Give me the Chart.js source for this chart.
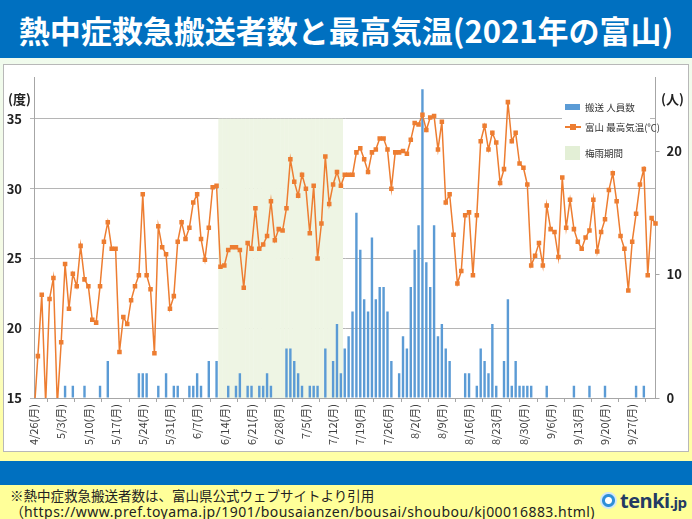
<!DOCTYPE html>
<html lang="ja">
<head>
<meta charset="utf-8">
<script src="https://cdn.jsdelivr.net/npm/chart.js@4.4.1/dist/chart.umd.min.js"></script>
<style>
  html, body { margin: 0; padding: 0; }
  body {
    width: 692px; height: 519px; position: relative; overflow: hidden;
    font-family: "Noto Sans CJK JP", "Noto Sans", sans-serif;
    background: linear-gradient(#effbef 0px, #f6fbe4 300px, #ffffa6 420px);
  }
  #title {
    position: absolute; left: 0; top: 0; width: 692px; height: 58px;
    background: #0070c0; color: #fff; font-weight: bold; font-size: 31px;
    line-height: 60px; text-align: center; white-space: nowrap;
  }
  #box {
    position: absolute; left: 3px; top: 64px; width: 684px; height: 386px;
    background: #fff; border: 1px solid #b8b8b8;
  }
  #box canvas { position: absolute; left: 0; top: 0; }
  .unit { position: absolute; font-size: 13px; font-weight: bold; color: #222; }
  #legend {
    position: absolute; left: 558px; top: 28px; width: 88px; height: 73px;
    background: #fff; font-size: 9.5px; color: #333;
  }
  #legend .item { position: absolute; left: 23px; white-space: nowrap; line-height: 12px; }
  #legend .mk { position: absolute; }
  #band { position: absolute; left: 0; top: 461px; width: 692px; height: 24px; background: #0070c0; }
  #foot { position: absolute; left: 0; top: 485px; width: 692px; height: 34px; background: #ffff99; }
  #foot .l { position: absolute; left: 10px; color: #222; white-space: nowrap; line-height: 16px; }
  #logo { position: absolute; left: 598px; top: 489px; height: 26px; white-space: nowrap; }
  #logo .ic {
    position: absolute; left: 2px; top: 3px; width: 17px; height: 17px; border-radius: 50%;
    background: radial-gradient(circle at 50% 50%, #fff 0 3px, #2f8fd8 4px 6px, #cfe7fa 7px);
  }
  #logo .tx {
    position: absolute; left: 22px; top: -2px; font-family: "Open Sans", "Noto Sans", sans-serif;
    font-weight: bold; font-size: 20px; color: #233a63; letter-spacing: -0.5px;
  }
  #logo .tx small { font-size: 15px; }
</style>
</head>
<body>
<div id="title">熱中症救急搬送者数と最高気温(2021年の富山)</div>

<div id="box">
  <canvas id="chart" width="684" height="386"></canvas>
  <div class="unit" style="left:4px; top:24px;">(度)</div>
  <div class="unit" style="left:657px; top:24px;">(人)</div>
  <div id="legend">
    <div class="mk" style="left:3px; top:11px; width:15px; height:6px; background:#5b9bd5;"></div>
    <div class="item" style="top:8px;">搬送 人員数</div>
    <div class="mk" style="left:3px; top:33px; width:16px; height:1.5px; background:#ed7d31;"></div>
    <div class="mk" style="left:8px; top:31px; width:6px; height:6px; background:#ed7d31;"></div>
    <div class="item" style="top:28px;">富山 最高気温(℃)</div>
    <div class="mk" style="left:3px; top:53px; width:15px; height:14px; background:#e3efd6;"></div>
    <div class="item" style="top:54px;">梅雨期間</div>
  </div>
</div>

<div id="band"></div>
<div id="foot">
  <div class="l" style="top:2px; font-size:13.5px;">※熱中症救急搬送者数は、富山県公式ウェブサイトより引用</div>
  <div class="l" style="top:18px; font-size:14px;">（<span style="font-family:'Noto Sans', sans-serif; letter-spacing:0.45px;">https://www.pref.toyama.jp/1901/bousaianzen/bousai/shoubou/kj00016883.html)</span></div>
</div>
<div id="logo"><div class="ic"></div><div class="tx">tenki<small>.jp</small></div></div>

<script>
// 期間: 2021/4/26 から 161日
const startYear = 2021, startMonth = 4, startDay = 26;
const dayCount = 161;
const weekdayNames = ["日", "月", "火", "水", "木", "金", "土"];

// 富山 最高気温(℃) 4/26〜10/3
const maxTemps = [
  13.8, 18.0, 22.4, 14.6, 22.1, 23.6, 14.5,
  19.0, 24.6, 21.4, 23.9, 23.0, 25.9, 23.5,
  23.0, 20.6, 20.4, 23.0, 26.2, 27.6, 25.7,
  25.7, 18.3, 20.8, 20.3, 22.0, 23.0, 23.8,
  29.6, 23.8, 22.8, 18.2, 27.3, 25.8, 25.3,
  21.4, 22.3, 26.2, 27.6, 26.4, 27.2, 29.0,
  29.6, 26.4, 24.9, 27.2, 30.1, 30.2, 24.4,
  24.5, 25.6, 25.8, 25.8, 25.6, 22.9, 26.1,
  25.7, 28.6, 25.7, 26.0, 26.6, 29.1, 26.3,
  27.1, 27.0, 28.6, 32.1, 30.5, 29.5, 31.0,
  30.0, 26.8, 30.2, 25.0, 27.5, 32.3, 28.9,
  30.3, 31.2, 30.2, 31.0, 31.0, 31.0, 32.6,
  32.9, 32.1, 31.2, 32.6, 32.8, 33.6, 33.6,
  32.8, 30.0, 32.6, 32.6, 32.7, 32.5, 33.5,
  34.7, 34.6, 35.3, 34.2, 35.1, 35.2, 32.8,
  34.8, 29.0, 29.6, 26.7, 23.2, 24.1, 28.1,
  28.3, 23.8, 28.1, 33.4, 34.5, 32.8, 34.0,
  33.3, 30.4, 31.4, 36.2, 33.4, 34.0, 31.8,
  31.5, 30.3, 24.5, 25.2, 26.1, 24.5, 28.8,
  27.1, 26.9, 25.1, 30.8, 27.2, 29.2, 27.1,
  26.2, 25.7, 26.5, 27.0, 29.2, 25.5, 26.9,
  27.8, 29.9, 31.1, 29.1, 26.6, 25.7, 22.7,
  26.2, 28.2, 30.3, 31.4, 23.8, 27.9, 27.5
];

// 熱中症 搬送人員数(人)
const transportCounts = [
  0, 0, 0, 0, 0, 0, 0,
  0, 1, 0, 1, 0, 0, 1,
  0, 0, 0, 1, 0, 3, 0,
  0, 0, 0, 0, 0, 0, 2,
  2, 2, 0, 0, 1, 0, 2,
  0, 1, 1, 0, 0, 1, 1,
  2, 1, 0, 3, 0, 3, 0,
  0, 1, 0, 1, 2, 0, 1,
  1, 0, 1, 1, 2, 1, 0,
  0, 0, 4, 4, 3, 2, 1,
  0, 1, 1, 1, 0, 4, 0,
  3, 6, 2, 4, 5, 7, 15,
  12, 8, 7, 13, 8, 9, 9,
  7, 3, 0, 2, 5, 4, 9,
  12, 14, 25, 11, 9, 14, 5,
  6, 4, 3, 0, 0, 0, 2,
  2, 0, 1, 4, 3, 2, 6,
  1, 0, 3, 8, 1, 3, 1,
  1, 1, 1, 0, 0, 0, 1,
  0, 0, 0, 0, 0, 0, 1,
  0, 0, 0, 1, 0, 0, 0,
  1, 0, 0, 0, 0, 0, 0,
  0, 1, 0, 1, 0, 0, 0
];

// 梅雨期間
const rainyFrom = "6/13";
const rainyTo = "7/14";

// 軸
const tempTicks = [15, 20, 25, 30, 35];
const countTicks = [0, 10, 20];

// 日付ラベル
const dateLabels = [];
for (let i = 0; i < dayCount; i++) {
  const d = new Date(startYear, startMonth - 1, startDay + i);
  dateLabels.push(`${d.getMonth() + 1}/${d.getDate()}(${weekdayNames[d.getDay()]})`);
}
const fromIdx = dateLabels.findIndex((l) => l.startsWith(rainyFrom + "("));
const toIdx = dateLabels.findIndex((l) => l.startsWith(rainyTo + "("));
const rainyBars = dateLabels.map((l, i) => (i >= fromIdx && i <= toIdx ? tempTicks[tempTicks.length - 1] : null));

Chart.defaults.font.family = "'Noto Sans CJK JP', 'Noto Sans', sans-serif";
Chart.defaults.color = "#333";

const axisGray = "#a6a6a6";

// 縦軸の幅と余白を固定
function fixYAxis(width) {
  return (axis) => {
    axis.width = width;
    axis.paddingTop = 0;
    axis.paddingBottom = 0;
  };
}

new Chart(document.getElementById("chart").getContext("2d"), {
  data: {
    labels: dateLabels,
    datasets: [
      {
        type: "bar",
        label: "搬送 人員数",
        data: transportCounts,
        yAxisID: "y2",
        backgroundColor: "#5b9bd5",
        barPercentage: 0.62,
        categoryPercentage: 1,
        grouped: false,
        order: 2,
      },
      {
        type: "line",
        label: "富山 最高気温(℃)",
        data: maxTemps,
        yAxisID: "y",
        borderColor: "#ed7d31",
        backgroundColor: "#ed7d31",
        borderWidth: 1.5,
        pointStyle: "rect",
        pointRadius: 3.2,
        pointBorderWidth: 0,
        tension: 0,
        order: 1,
      },
      {
        type: "bar",
        label: "梅雨期間",
        data: rainyBars,
        yAxisID: "y",
        backgroundColor: "#eef5e4",
        barPercentage: 1.1,
        categoryPercentage: 1,
        grouped: false,
        order: 3,
      },
    ],
  },
  options: {
    responsive: false,
    animation: false,
    layout: { padding: { top: 12, left: 0, right: 0, bottom: 0 } },
    plugins: { legend: { display: false }, tooltip: { enabled: false } },
    scales: {
      x: {
        type: "category",
        offset: false,
        afterBuildTicks: (axis) => {
          axis.ticks = axis.ticks.filter((t) => t.value % 7 === 0);
        },
        afterFit: (axis) => { axis.height = 53; },
        ticks: {
          autoSkip: false,
          minRotation: 90,
          maxRotation: 90,
          padding: 2,
          color: "#404040",
          font: { size: 11 },
        },
        grid: { drawOnChartArea: false, tickLength: 4, color: axisGray },
        border: { color: axisGray },
      },
      y: {
        position: "left",
        min: 15,
        max: 38,
        afterBuildTicks: (axis) => {
          axis.ticks = tempTicks.map((v) => ({ value: v }));
        },
        afterFit: fixYAxis(30),
        ticks: { padding: 8, color: "#222", font: { size: 13, weight: "bold" } },
        grid: { color: "#b5b5b5", tickLength: 4 },
        border: { color: axisGray },
      },
      y2: {
        position: "right",
        min: 0,
        max: 26,
        afterBuildTicks: (axis) => {
          axis.ticks = countTicks.map((v) => ({ value: v }));
        },
        afterFit: fixYAxis(32.5),
        ticks: { padding: 7, color: "#222", font: { size: 13, weight: "bold" } },
        grid: { drawOnChartArea: false, tickLength: 4, color: axisGray },
        border: { color: axisGray },
      },
    },
  },
});
</script>
</body>
</html>
